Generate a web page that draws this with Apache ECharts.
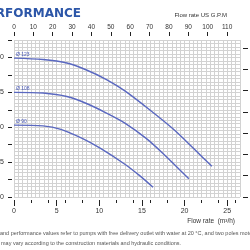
<!DOCTYPE html>
<html><head><meta charset="utf-8">
<script src="https://cdn.jsdelivr.net/npm/echarts@6/dist/echarts.min.js"></script>
<style>html,body{margin:0;padding:0;background:#fff;overflow:hidden}#c{width:250px;height:250px}</style>
</head><body><div id="c"></div>
<script>
// Flow (m3/h) and head (m)
const q123 = [0, 3.4, 6.2, 8.5, 10.9, 13.0, 15.9, 18.8, 21.1, 23.2];
const h123 = [19.9, 19.7, 19.2, 18.2, 16.8, 15.2, 12.5, 9.6, 6.9, 4.4];
const q108 = [0, 3.4, 6.2, 8.5, 10.9, 13.0, 15.5, 17.5, 20.5];
const h108 = [15.0, 14.9, 14.4, 13.4, 12.0, 10.6, 8.4, 6.2, 2.6];
const q90 = [0, 3.4, 5.5, 8.0, 10.1, 13.0, 14.7, 16.3];
const h90 = [10.3, 10.2, 9.7, 8.4, 7.0, 4.7, 3.1, 1.4];
const curveNames = ['Ø 123', 'Ø 108', 'Ø 90'];
const flowLabelsM3h = [0, 5, 10, 15, 20, 25];
const flowMinorTicks = [2, 4, 6, 8, 10, 12, 14, 16, 18, 20, 22, 24, 26];
const flowLabelsGpm = [0, 10, 20, 30, 40, 50, 60, 70, 80, 90, 100, 110];
const headLabels = [0, 5, 10, 15, 20];
const headTicks = [0, 2.5, 5, 7.5, 10, 12.5, 15, 17.5, 20, 22.5];
const headFtTicks = [0, 10, 20, 30, 40, 50, 60, 70];
const titleText = 'PERFORMANCE';
const topAxisTitle = 'Flow rate US G.P.M';
const bottomAxisTitle = 'Flow rate  (m³/h)';
const note1 = 'and performance values refer to pumps with free delivery outlet with water at 20 °C, and two poles motors';
const note2 = 'may vary according to the construction materials and hydraulic conditions.';

const QMAX = 26.5, HMAX = 22.5, GPM = 4.4029, FT = 3.28084;
const narrow = "'Liberation Sans Narrow','Liberation Sans',Arial,sans-serif";
const lineColor = '#5a68c0';
const tickStyle = {color: '#222', width: 1};

function mk(q, h, name) {
  return q.map((v, i) => i === 0
    ? {value: [v, h[i]], label: {show: true, formatter: name, position: 'top', distance: 1, align: 'left', offset: [2, 0],
        fontSize: 5, color: '#4a5ab8', fontFamily: narrow}}
    : [v, h[i]]);
}
function line(q, h, name) {
  return {type: 'line', name: name, data: mk(q, h, name), smooth: 0.3,
    symbol: 'circle', symbolSize: 0, showSymbol: true, showAllSymbol: true,
    lineStyle: {color: lineColor, width: 1.4}, itemStyle: {color: lineColor}};
}

const chart = echarts.init(document.getElementById('c'), null, {renderer: 'canvas'});
const baseX = {type: 'value', min: 0, max: QMAX, axisLine: {show: false, onZero: false}, splitLine: {show: false}, axisLabel: {show: false}, axisTick: {show: false}};
chart.setOption({
  animation: false,
  grid: {left: 14, right: 10, top: 40, bottom: 53, containLabel: false, outerBoundsMode: 'none'},
  xAxis: [
    Object.assign({}, baseX, {position: 'bottom', interval: 0.5,
      splitLine: {show: true, lineStyle: {color: '#d2d2d2', width: 1}}}),
    Object.assign({}, baseX, {position: 'bottom', offset: 3,
      axisTick: {show: true, length: 6, lineStyle: tickStyle, customValues: flowLabelsM3h},
      axisLabel: {show: true, customValues: flowLabelsM3h, fontSize: 7, color: '#333', margin: 8, fontFamily: narrow}}),
    Object.assign({}, baseX, {position: 'bottom', offset: 3,
      axisTick: {show: true, length: 3, lineStyle: tickStyle, customValues: flowMinorTicks}}),
    {type: 'value', position: 'top', min: 0, max: QMAX * GPM, offset: 4,
      axisLine: {show: false, onZero: false}, splitLine: {show: false},
      axisTick: {show: true, length: 4, lineStyle: tickStyle, customValues: flowLabelsGpm},
      axisLabel: {show: true, customValues: flowLabelsGpm, fontSize: 6.5, color: '#333', margin: 5, fontFamily: narrow}}
  ],
  yAxis: [
    {type: 'value', min: 0, max: HMAX, interval: 0.5, position: 'left',
      axisLine: {show: false, onZero: false}, axisTick: {show: false}, axisLabel: {show: false},
      splitLine: {show: true, lineStyle: {color: '#d2d2d2', width: 1}}},
    {type: 'value', min: 0, max: HMAX, position: 'left', offset: 2,
      axisLine: {show: false, onZero: false}, splitLine: {show: false},
      axisTick: {show: true, length: 4, lineStyle: tickStyle, customValues: headTicks},
      axisLabel: {show: true, customValues: headLabels, fontSize: 7, color: '#333', margin: 8, fontFamily: narrow}},
    {type: 'value', min: 0, max: HMAX * FT, position: 'right', offset: 3,
      axisLine: {show: false, onZero: false}, splitLine: {show: false},
      axisTick: {show: true, length: 5, lineStyle: tickStyle, customValues: headFtTicks},
      axisLabel: {show: false}}
  ],
  series: [
    line(q123, h123, curveNames[0]),
    line(q108, h108, curveNames[1]),
    line(q90, h90, curveNames[2])
  ],
  graphic: [
    {type: 'text', style: {x: 81, y: 14, text: titleText, textAlign: 'right', textVerticalAlign: 'middle',
      font: "bold 12px 'DejaVu Sans', sans-serif", fill: '#2c56a8'}},
    {type: 'text', style: {x: 227, y: 15, text: topAxisTitle, textAlign: 'right', textVerticalAlign: 'middle',
      fontSize: 6, fontFamily: narrow, fill: '#333'}},
    {type: 'text', style: {x: 235, y: 221, text: bottomAxisTitle, textAlign: 'right', textVerticalAlign: 'middle',
      fontSize: 6.5, fontFamily: narrow, fill: '#333'}},
    {type: 'text', style: {x: 0, y: 233, text: note1, textAlign: 'left', textVerticalAlign: 'middle',
      fontSize: 5.5, fontFamily: narrow, fill: '#555'}},
    {type: 'text', style: {x: 1, y: 243, text: note2, textAlign: 'left', textVerticalAlign: 'middle',
      fontSize: 5.5, fontFamily: narrow, fill: '#555'}}
  ]
});
</script></body></html>
